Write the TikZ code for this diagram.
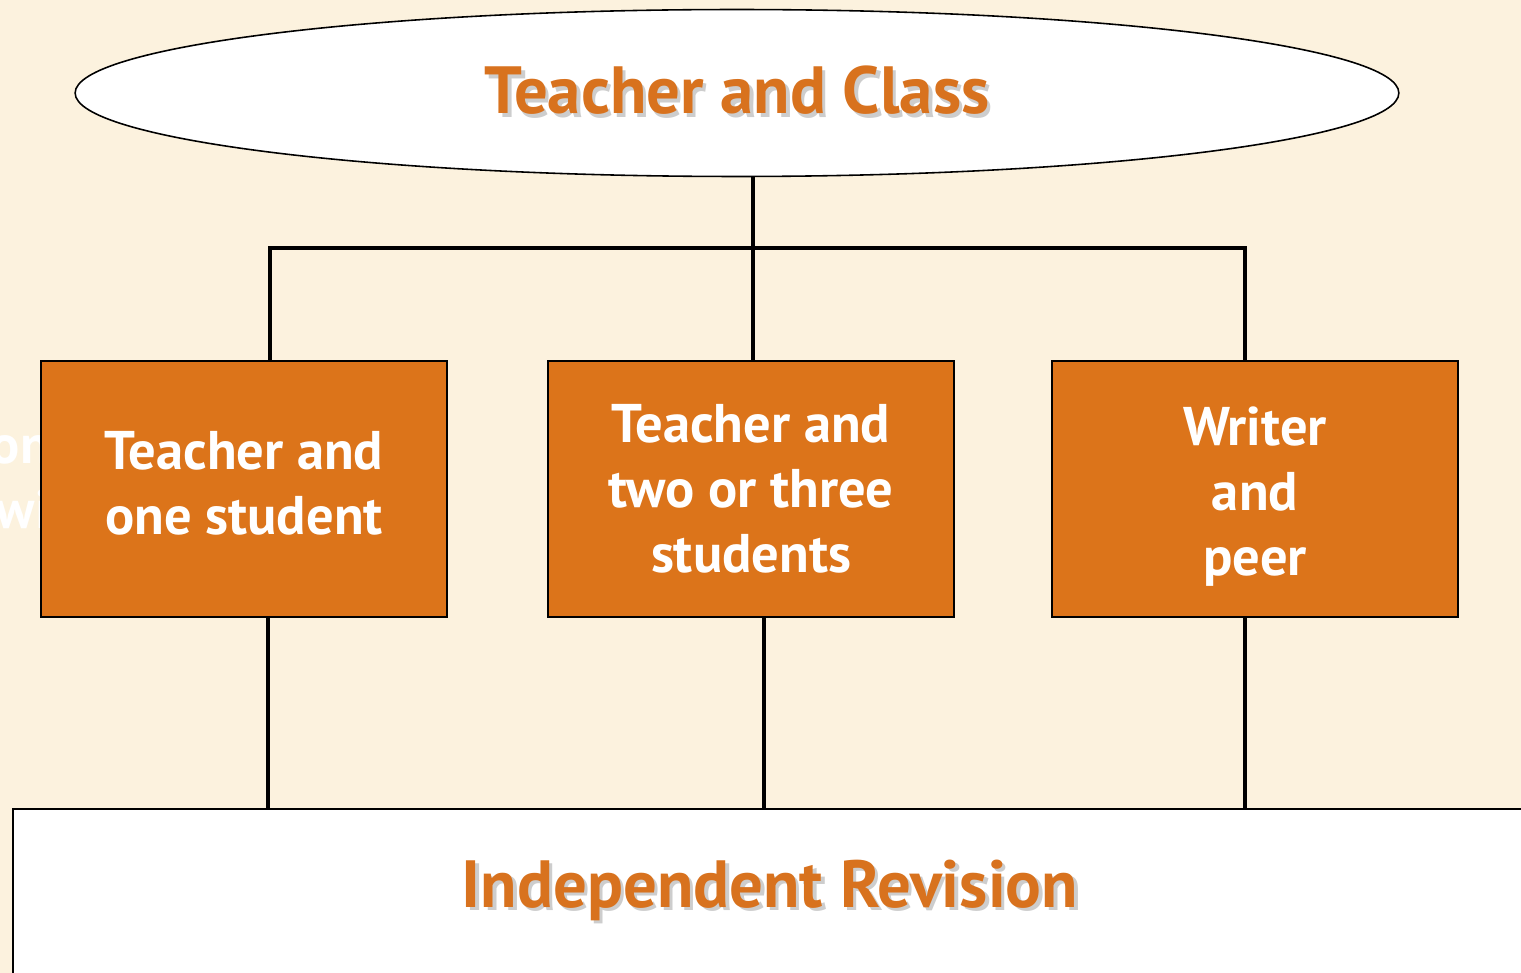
\documentclass[tikz,border=0pt]{standalone}
\usepackage{fontspec}
\setmainfont{PT Sans}
\usepackage{xcolor}
\usepackage{tikz}
\usetikzlibrary{positioning,calc}
\usetikzlibrary{shapes.geometric}
\definecolor{paper}{RGB}{252,242,222}
\definecolor{rust}{RGB}{220,116,26}
\definecolor{rusttext}{RGB}{216,114,30}
\definecolor{shade}{RGB}{205,205,205}
\newcommand{\shtext}[1]{\rlap{\kern2pt\raisebox{-2pt}{\color{shade}#1}}#1}
\newcommand{\boxlines}[2]{\raisebox{#1}[\height][\depth]{\begin{tabular}{@{}c@{}}#2\end{tabular}}}
\tikzstyle{heading} = [font=\fontsize{38}{44}\selectfont\bfseries, text=rusttext]
\tikzstyle{group} = [rectangle, draw=black, line width=1pt, fill=rust, text=white, minimum width=8.12cm, minimum height=5.12cm, inner sep=0pt, align=center, font=\fontsize{31}{37}\selectfont\bfseries]
\tikzstyle{link} = [line width=2.2pt]

\begin{document}
\begin{tikzpicture}[x=0.02cm,y=-0.02cm]
        \fill[paper] (0,0) rectangle (1521,973);
        \useasboundingbox (0,0) rectangle (1521,973);

        \node[shape=ellipse,draw=black,line width=0.9pt,fill=white,minimum width=26.48cm,minimum height=3.34cm,inner sep=0pt] (class) at (737,93) {};
        \node[heading] (classtext) at (737,92) {\shtext{Teacher and Class}};

        \node[text=white,anchor=east,align=right,font=\fontsize{31}{37}\selectfont\bfseries] (hidden) at (56,482) {on\\wi};

        \node[group] (one) at (244,489) {\boxlines{0pt}{Teacher and\\one student}};
        \node[group] (few) at (751,489) {Teacher and\\two or three\\students};
        \node[group] (peer) at (1255,489) {\boxlines{-5pt}{Writer\\and\\peer}};

        \node[rectangle,draw=black,line width=0.9pt,fill=white,anchor=north west,minimum width=30.96cm,minimum height=3.84cm] (rev) at (12,808) {};
        \node[heading] (revtext) at (770,892) {\shtext{Independent Revision}};

        \coordinate (hub) at (753,248);
        \coordinate (j1) at (270,248);
        \coordinate (j3) at (1245,248);
        \coordinate (d1) at (268,617);
        \coordinate (d2) at (764,617);
        \coordinate (d3) at (1245,617);

        \draw[link] (class.south -| hub) -- (hub);
        \draw[link] (j1 |- one.north) -- (j1) -- (j3) -- (j3 |- peer.north);
        \draw[link] (hub) -- (hub |- few.north);

        \draw[link] (d1) -- (d1 |- rev.north);
        \draw[link] (d2) -- (d2 |- rev.north);
        \draw[link] (d3) -- (d3 |- rev.north);
    \end{tikzpicture}
\end{document}
